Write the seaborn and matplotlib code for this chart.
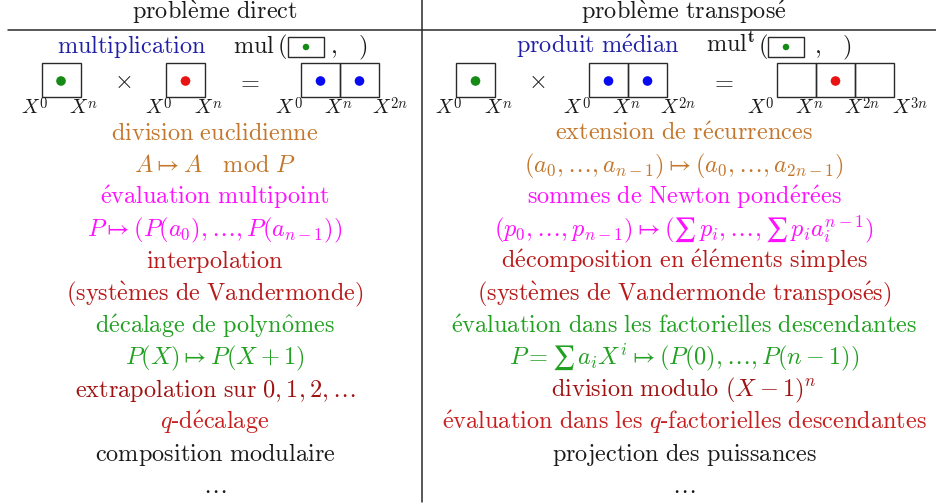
import matplotlib
matplotlib.use("Agg")
import matplotlib.pyplot as plt
from matplotlib.patches import Rectangle
import seaborn as sns
import pandas as pd

# --- contenu du tableau ---
headers = ["problème direct", "problème transposé"]
titles = ["multiplication", "produit médian"]
mul_names = [r"$\mathrm{mul}$", r"$\mathrm{mul}^{\mathbf{t}}$"]

# schemas : une liste de cellules par boite (None = cellule vide)
left_boxes = [["green"], ["red"], ["blue", "blue"]]
right_boxes = [["green"], ["blue", "blue"], [None, "red", None]]
ops = ["×", "="]
exps = ["0", "n", "2n", "3n"]

left_rows = [
    "division euclidienne",
    r"$A \mapsto A \quad \mathrm{mod}\ P$",
    "évaluation multipoint",
    r"$P \mapsto (P(a_0), \ldots, P(a_{n-1}))$",
    "interpolation",
    "(systèmes de Vandermonde)",
    "décalage de polynômes",
    r"$P(X) \mapsto P(X+1)$",
    r"extrapolation sur $0, 1, 2, \ldots$",
    "$q$‐décalage",
    "composition modulaire",
    r"$\ldots$",
]
right_rows = [
    "extension de récurrences",
    r"$(a_0, \ldots, a_{n-1}) \mapsto (a_0, \ldots, a_{2n-1})$",
    "sommes de Newton pondérées",
    r"$(p_0, \ldots, p_{n-1}) \mapsto (∑\,p_i, \ldots, ∑\,p_i a_i^{n-1})$",
    "décomposition en éléments simples",
    "(systèmes de Vandermonde transposés)",
    "évaluation dans les factorielles descendantes",
    r"$P = ∑\,a_i X^{i} \mapsto (P(0), \ldots, P(n-1))$",
    r"division modulo $(X-1)^n$",
    "évaluation dans les $q$‐factorielles descendantes",
    "projection des puissances",
    r"$\ldots$",
]
row_colors = ["orange", "orange", "magenta", "magenta", "red", "red",
              "green", "green", "darkred", "red2", "black", "black"]

palette = {"orange": "#c4772c", "magenta": "#ff10ff", "red": "#b81a1a",
           "green": "#22a022", "darkred": "#a01212", "red2": "#c81e1e",
           "black": "#1a1a1a", "navy": "#2020a6"}
dot_colors = {"green": "#158a15", "red": "#e81414", "blue": "#0a0af0"}


def tex(s):
    """texte simple -> mathtext en romain (accents compris)"""
    parts = s.split("$")
    out = []
    for i, p in enumerate(parts):
        if i % 2 == 1:
            out.append(p)
        elif p:
            p = (p.replace(" ", r"\ ").replace("é", r"\'e")
                 .replace("è", r"\`e").replace("ô", r"\^o"))
            out.append(r"\mathrm{" + p + "}")
    return "$" + "".join(out) + "$"


sns.set_theme(style="white")
plt.rcParams['mathtext.fontset'] = 'cm'

fig = plt.figure(figsize=(9.36, 5.04), dpi=100)
ax = fig.add_axes([0, 0, 1, 1])
ax.set_xlim(0, 936)
ax.set_ylim(504, 0)
ax.axis("off")

FS = 17.5
col_x = [215, 684]
line_c = "#2a2a2a"

# traits du tableau
ax.plot([422, 422], [0, 502], color=line_c, lw=1.1)
ax.plot([8, 936], [30, 30], color=line_c, lw=1.1)

for cx, h in zip(col_x, headers):
    ax.text(cx, 19.5, tex(h), ha="center", va="baseline", fontsize=FS, color="#1a1a1a")

# ligne "multiplication  mul( . , )"
dots = []
mul_layout = [
    # fin du titre, debut de mul, parenthese, boite, virgule, parenthese
    (207, 233, 282, 288, 333, 363),
    (680, 706, 763, 768, 817, 847),
]
for title, name, (tx_end, mx, lp, bx, cm, rp) in zip(titles, mul_names, mul_layout):
    ax.text(tx_end, 53, tex(title), ha="right", va="baseline", fontsize=FS, color=palette["navy"])
    ax.text(mx, 53, name, ha="left", va="baseline", fontsize=FS, color="#1a1a1a")
    ax.text(lp, 53, r"$($", ha="center", va="baseline", fontsize=FS, color="#1a1a1a")
    ax.text(cm, 53, r"$,$", ha="center", va="baseline", fontsize=FS, color="#1a1a1a")
    ax.text(rp, 53, r"$)$", ha="center", va="baseline", fontsize=FS, color="#1a1a1a")
    ax.add_patch(Rectangle((bx, 37), 36, 20, fill=False, ec=line_c, lw=1.0))
    dots.append((bx + 18, 47, "green", "small"))

# schemas de boites
CW, BY, BH = 39, 63, 34
box_left = [[41.5, 166, 301], [456, 589, 777]]
op_x = [[123, 248], [537, 722]]
for boxes, lefts, oxs in zip([left_boxes, right_boxes], box_left, op_x):
    for cells, x0 in zip(boxes, lefts):
        n = len(cells)
        for k, c in enumerate(cells):
            ax.add_patch(Rectangle((x0 + k * CW, BY), CW, BH, fill=False, ec=line_c, lw=1.0))
            if c is not None:
                dots.append((x0 + (k + 0.5) * CW, BY + BH / 2 + 1, c, "big"))
        center = x0 + n * CW / 2
        for k in range(n + 1):
            lx = center + (k - n / 2) * 48.5
            # X et exposant separes pour garder l'exposant bas (comme en TeX)
            ax.text(lx + 3, 113, r"$X$", ha="right", va="baseline",
                    fontsize=14.5, color="#1a1a1a")
            ax.text(lx + 2, 107.5, r"$%s$" % exps[k], ha="left", va="baseline",
                    fontsize=10.5, color="#1a1a1a")
    for o, x in zip(ops, oxs):
        ax.text(x, 81, "$%s$" % ("\\times" if o == "×" else "="), ha="center", va="center",
                fontsize=FS, color="#1a1a1a")

dot_df = pd.DataFrame(dots, columns=["x", "y", "c", "size"])
for sz, s in [("big", 48), ("small", 22)]:
    sub = dot_df[dot_df["size"] == sz]
    sns.scatterplot(data=sub, x="x", y="y", hue="c", palette=dot_colors, s=s,
                    edgecolor="none", legend=False, ax=ax, zorder=5)
ax.set_xlim(0, 936)
ax.set_ylim(504, 0)
ax.axis("off")

# lignes de texte
y0, dy = 140, 32.1
for cx, rows in zip(col_x, [left_rows, right_rows]):
    for i, (r, c) in enumerate(zip(rows, row_colors)):
        ax.text(cx, y0 + i * dy, tex(r), ha="center", va="baseline", fontsize=FS,
                color=palette[c])

fig.savefig("out.png", dpi=100)
